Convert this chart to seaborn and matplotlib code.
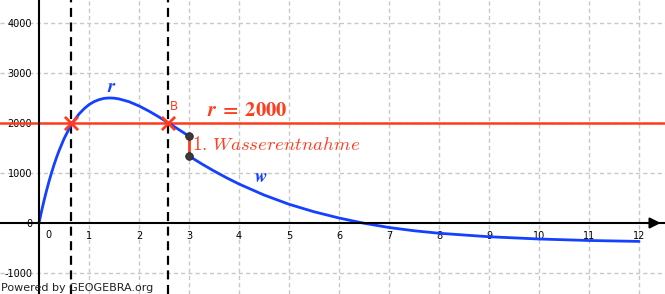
import numpy as np
import pandas as pd
import matplotlib
matplotlib.use("Agg")
import matplotlib.pyplot as plt
import seaborn as sns

# ---- data ----
r_t = [0, 0.05, 0.1, 0.15, 0.2, 0.25, 0.3, 0.35, 0.4, 0.5, 0.6, 0.7, 0.8, 0.9, 1.0, 1.1, 1.2,
       1.3, 1.4, 1.5, 1.6, 1.8, 2.0, 2.2, 2.4, 2.6, 2.8, 3.0]
r_val = [0, 231, 446, 645, 831, 1003, 1162, 1308, 1444, 1683, 1882, 2044, 2180, 2283, 2367,
         2426, 2467, 2492, 2501, 2497, 2482, 2426, 2341, 2237, 2120, 1995, 1866, 1737]

w_t = [3, 3.25, 3.5, 3.75, 4, 4.5, 5, 5.5, 6, 6.5, 7, 7.5, 8, 9, 10, 11, 12]
w_val = [1340, 1185, 1040, 905, 780, 560, 375, 225, 100, -5, -90, -155, -205, -275, -320, -350, -368]

level_r = 2000
cross_t = [0.64, 2.57]
cross_val = [2000, 2000]
draw_t = [3, 3]
draw_val = [1737, 1340]

x_ticks = list(range(1, 13))
y_ticks = [-1000, 0, 1000, 2000, 3000, 4000]

RED = "#ff3c1e"
BLUE = "#1440ff"

sns.set_style("white")
plt.rcParams["font.family"] = ["DejaVu Sans"]
plt.rcParams["lines.scale_dashes"] = False
plt.rcParams["text.color"] = "black"
plt.rcParams["xtick.color"] = "black"
plt.rcParams["ytick.color"] = "black"
plt.rcParams["xtick.labelcolor"] = "black"
plt.rcParams["ytick.labelcolor"] = "black"

fig = plt.figure(figsize=(6.65, 2.94), dpi=100)
ax = fig.add_axes([0, 0, 1, 1])
ax.set_xlim(-0.78, 12.52)
ax.set_ylim(-1420, 4460)

# grid
for xv in x_ticks:
    ax.axvline(xv, color="#c8c8c8", lw=1.0, dashes=(3, 2.2), zorder=0)
for yv in y_ticks:
    if yv != 0:
        ax.axhline(yv, color="#c8c8c8", lw=1.0, dashes=(3, 2.2), zorder=0)

# spines as axes through origin
for s in ["top", "right"]:
    ax.spines[s].set_visible(False)
ax.spines["left"].set_position(("data", 0))
ax.spines["bottom"].set_position(("data", 0))
for s in ["left", "bottom"]:
    ax.spines[s].set_linewidth(1.5)
    ax.spines[s].set_color("black")
    ax.spines[s].set_zorder(3)

ax.set_xticks(x_ticks)
ax.set_xticklabels([str(v) for v in x_ticks], fontsize=7, color="black")
ax.set_yticks(y_ticks)
ax.set_yticklabels([str(v) for v in y_ticks], fontsize=7, color="black")
ax.tick_params(axis="x", direction="inout", length=8, width=1.5, pad=2, colors="black")
ax.tick_params(axis="y", direction="out", length=4, width=1.5, pad=1, colors="black")
ax.text(0.12, -150, "0", fontsize=7, ha="left", va="top", color="black")

# arrow on x axis
ax.annotate("", xy=(12.49, 0), xytext=(12.1, 0),
            arrowprops=dict(arrowstyle="-|>", mutation_scale=16, color="black", lw=1.5),
            zorder=4)

# vertical dashed lines
for xv in cross_t:
    ax.axvline(xv, color="black", lw=1.6, dashes=(6.5, 4.0), zorder=2)

# horizontal r = 2000
ax.axhline(level_r, color=RED, lw=1.8, zorder=2)

# curves
sns.lineplot(x=r_t, y=r_val, ax=ax, color=BLUE, lw=2, zorder=3)
sns.lineplot(x=w_t, y=w_val, ax=ax, color=BLUE, lw=2, zorder=3)

# withdrawal segment
sns.lineplot(x=draw_t, y=draw_val, ax=ax, color=RED, lw=2, zorder=4, sort=False,
             estimator=None)
sns.scatterplot(x=draw_t, y=draw_val, ax=ax, color="#3a3a3a", s=30, zorder=5,
                edgecolor="#222222", linewidth=0.6)

# crossing markers
sns.scatterplot(x=cross_t, y=cross_val, ax=ax, marker="x", color=RED, s=90,
                linewidth=2.0, zorder=5)

# labels
ax.text(2.62, 2330, "B", color=RED, fontsize=8.5, ha="left", va="center")
ax.text(3.36, 2270, r"$\boldsymbol{r}\;\mathbf{=\;2000}$", color=RED, fontsize=14.8,
        ha="left", va="center", math_fontfamily="stix")
ax.text(3.06, 1560, r"$1.\,Wasserentnahme$", color=RED, fontsize=13.5,
        ha="left", va="center", math_fontfamily="cm")
ax.text(1.46, 2720, r"$\boldsymbol{r}$", color=BLUE, fontsize=13.5, ha="center",
        va="center", math_fontfamily="cm")
ax.text(4.44, 940, r"$\boldsymbol{w}$", color=BLUE, fontsize=13.5, ha="center",
        va="center", math_fontfamily="cm")

ax.set_xlabel("")
ax.set_ylabel("")
if ax.get_legend():
    ax.get_legend().remove()

fig.text(0.001, 0.004, "Powered by GEOGEBRA.org", fontsize=8, color="#222222",
         ha="left", va="bottom")

fig.savefig("out.png", dpi=100)
